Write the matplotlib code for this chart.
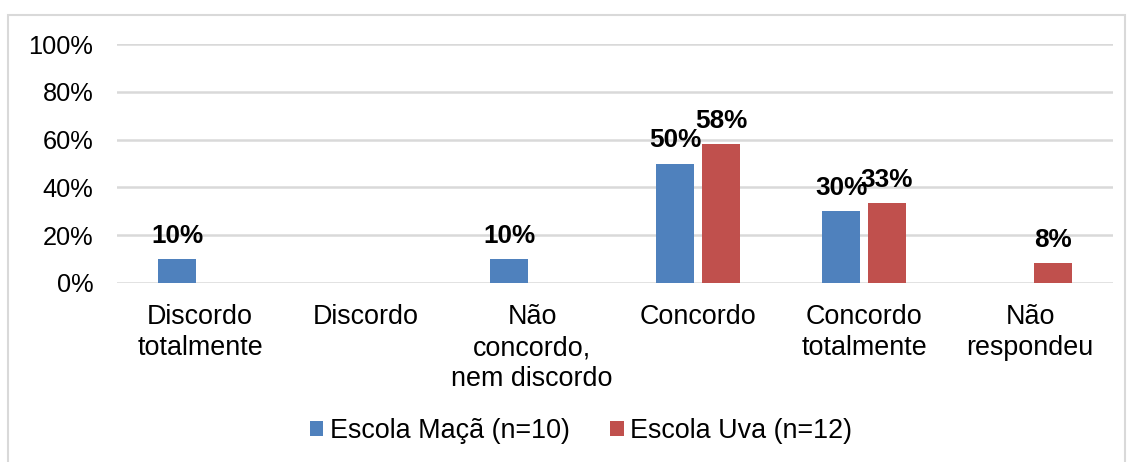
import matplotlib
matplotlib.use("Agg")
import matplotlib.pyplot as plt
from matplotlib import ticker
from matplotlib.patches import Rectangle
import numpy as np

categories = ['Discordo\ntotalmente', 'Discordo', 'Não\nconcordo,\nnem discordo',
              'Concordo', 'Concordo\ntotalmente', 'Não\nrespondeu']
maca = [10, 0, 10, 50, 30, 0]
uva = [0, 0, 0, 58.3, 33.3, 8.3]
series_names = ['Escola Maçã (n=10)', 'Escola Uva (n=12)']
colors = ['#4F81BD', '#C0504D']

plt.rcParams['font.family'] = ['Liberation Sans', 'DejaVu Sans']

fig = plt.figure(figsize=(11.29, 4.62), dpi=100)
ax = fig.add_axes([117 / 1129, 179 / 462, 996 / 1129, 239 / 462])

x = np.arange(len(categories))
width = 0.225
off = 0.138
for vals, name, col, sign in zip([maca, uva], series_names, colors, [-1, 1]):
    bars = ax.bar(x + sign * off, vals, width, color=col, label=name, zorder=3)
    for b, v in zip(bars, vals):
        if v > 0:
            ax.annotate('{:.0f}%'.format(v), (b.get_x() + b.get_width() / 2, v),
                        xytext=(0, 8), textcoords='offset points',
                        ha='center', va='bottom', fontsize=18.8, fontweight='bold')

ax.set_xlim(-0.5, len(categories) - 0.5)
ax.set_ylim(0, 100)
ax.set_yticks(range(0, 101, 20))
ax.yaxis.set_major_formatter(ticker.FuncFormatter(lambda y, pos: '%d%%' % y))
ax.set_xticks(x)
ax.set_xticklabels(categories, fontsize=19.4, linespacing=1.26)
ax.tick_params(axis='y', length=0, pad=17, labelsize=18.3)
ax.tick_params(axis='x', length=0, pad=15)
ax.grid(axis='y', color='#d9d9d9', linewidth=1.8, zorder=0)
for s in ax.spines.values():
    s.set_visible(False)

fig.patches.append(Rectangle((8 / 1129, -0.05), 1117 / 1129, 1.05 - 15 / 462,
                             transform=fig.transFigure, fill=False,
                             edgecolor='#d9d9d9', linewidth=1.5))

fig.legend(loc='center', bbox_to_anchor=(581 / 1129, 31 / 462), ncol=2,
           frameon=False, fontsize=19.4, handlelength=0.5, handleheight=0.5,
           handletextpad=0.25, columnspacing=1.5)

fig.savefig('out.png', dpi=100)
